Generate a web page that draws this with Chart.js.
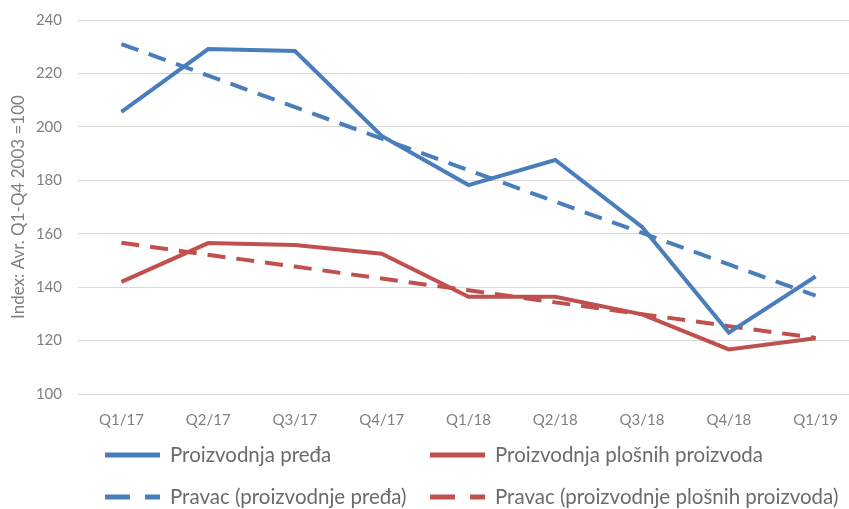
<!DOCTYPE html>
<html>
<head>
<meta charset="utf-8">
<script src="https://cdn.jsdelivr.net/npm/chart.js@4"></script>
<style>
  body { margin: 0; background: #fff; overflow: hidden; }
  #wrap { width: 859px; height: 509px; position: relative; }
</style>
</head>
<body>
<div id="wrap"><canvas id="trendChart"></canvas></div>
<script>
const quarters = ['Q1/17', 'Q2/17', 'Q3/17', 'Q4/17', 'Q1/18', 'Q2/18', 'Q3/18', 'Q4/18', 'Q1/19'];
const yarnValues = [205.6, 229.1, 228.4, 196.6, 178.2, 187.6, 162.5, 123.0, 144.0];
const fabricValues = [142.0, 156.5, 155.8, 152.5, 136.4, 136.4, 129.8, 116.7, 120.9];
const yarnTrend = [231.0, 219.2, 207.4, 195.6, 183.8, 172.0, 160.3, 148.5, 136.8];
const fabricTrend = [156.6, 152.1, 147.7, 143.2, 138.8, 134.3, 129.9, 125.4, 121.0];
const seriesNames = [
    'Proizvodnja pređa',
    'Proizvodnja plošnih proizvoda',
    'Pravac (proizvodnje pređa)',
    'Pravac (proizvodnje plošnih proizvoda)'
];
const yTicks = [100, 120, 140, 160, 180, 200, 220, 240];

const blue = '#4a7ebb';
const red = '#c0504d';
const dash = [18, 11];
const fontFamily = 'Lato, "Open Sans", sans-serif';

// legend laid out in two fixed columns, like the original
const gridLegend = {
    id: 'gridLegend',
    afterDraw(chart) {
        const ctx = chart.ctx;
        const cols = [105, 430];
        const rows = [455, 497];
        ctx.save();
        ctx.font = '20.5px ' + fontFamily;
        ctx.textBaseline = 'middle';
        chart.data.datasets.forEach((ds, i) => {
            const x = cols[i % 2];
            const y = rows[Math.floor(i / 2)];
            ctx.strokeStyle = ds.borderColor;
            ctx.lineWidth = 5;
            ctx.setLineDash(ds.borderDash ? [25, 15] : []);
            ctx.beginPath();
            ctx.moveTo(x, y);
            ctx.lineTo(x + 55, y);
            ctx.stroke();
            ctx.setLineDash([]);
            ctx.fillStyle = '#6b6b6b';
            ctx.fillText(ds.label, x + 65, y);
        });
        ctx.restore();
    }
};

const ctx = document.getElementById('trendChart').getContext('2d');
new Chart(ctx, {
    type: 'line',
    data: {
        labels: quarters,
        datasets: [
            { label: seriesNames[0], data: yarnValues, borderColor: blue, borderWidth: 4 },
            { label: seriesNames[1], data: fabricValues, borderColor: red, borderWidth: 4 },
            { label: seriesNames[2], data: yarnTrend, borderColor: blue, borderWidth: 4, borderDash: dash },
            { label: seriesNames[3], data: fabricTrend, borderColor: red, borderWidth: 4, borderDash: dash }
        ]
    },
    options: {
        responsive: true,
        maintainAspectRatio: false,
        animation: false,
        elements: {
            point: { radius: 0 },
            line: { tension: 0, fill: false, borderCapStyle: 'butt' }
        },
        layout: { padding: { top: 0, bottom: 75, left: 8, right: 0 } },
        plugins: {
            legend: { display: false },
            tooltip: { enabled: false }
        },
        scales: {
            x: {
                offset: true,
                grid: { display: false },
                border: { color: '#d9d9d9', width: 1 },
                ticks: { color: '#808080', font: { family: fontFamily, size: 15 }, padding: 9, maxRotation: 0 },
                afterFit(scale) { scale.height = 40; }
            },
            y: {
                min: 100,
                max: 240,
                afterBuildTicks(scale) { scale.ticks = yTicks.map(v => ({ value: v })); },
                grid: { color: '#d9d9d9', drawTicks: false },
                border: { display: false },
                ticks: { color: '#808080', font: { family: fontFamily, size: 15 }, padding: 16 },
                title: {
                    display: true,
                    text: 'Index: Avr. Q1-Q4 2003 =100',
                    color: '#808080',
                    font: { family: fontFamily, size: 17 },
                    padding: { top: 0, bottom: 6 }
                },
                afterFit(scale) {
                    scale.width = 70;
                    scale.paddingTop = 20;
                }
            }
        }
    },
    plugins: [gridLegend]
});
</script>
</body>
</html>
